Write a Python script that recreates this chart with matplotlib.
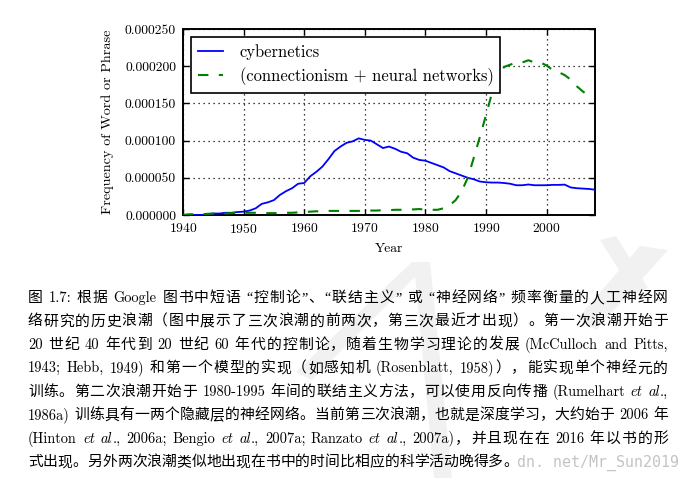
import matplotlib
matplotlib.use("Agg")
import matplotlib.pyplot as plt
from matplotlib.ticker import FormatStrFormatter, MultipleLocator
from matplotlib import font_manager
from matplotlib.ft2font import FT2Font
from matplotlib.patches import Polygon

years_cyb = list(range(1940, 2009))
cybernetics = [
    0.0, 0.0, 0.0, 0.0, 0.000001, 0.000002, 0.000002, 0.000003, 0.000003, 0.000004,
    0.0000045, 0.000006, 0.000009, 0.000015, 0.000017, 0.000020, 0.000027, 0.000032,
    0.000036, 0.000042, 0.000043, 0.000052, 0.000058, 0.000065, 0.000075, 0.000086,
    0.000092, 0.000097, 0.000099, 0.000103, 0.000101, 0.000100, 0.000095, 0.000090,
    0.000092, 0.000089, 0.000085, 0.000083, 0.000077, 0.000074, 0.000073, 0.000070,
    0.000067, 0.000064, 0.000059, 0.000056, 0.000053, 0.000050, 0.000048, 0.000045,
    0.000044, 0.0000436, 0.0000436, 0.000043, 0.000042, 0.000040, 0.000040, 0.000041,
    0.000040, 0.000040, 0.000040, 0.0000405, 0.0000405, 0.0000408, 0.000037, 0.000036,
    0.0000355, 0.000035, 0.000034,
]
years_conn = list(range(1940, 2008))
connectionism = [
    0.0, 0.000001, 0.000001, 0.000001, 0.0000015, 0.000002, 0.000002, 0.000002, 0.0000025, 0.000003,
    0.000003, 0.000003, 0.000003, 0.0000025, 0.0000025, 0.0000025, 0.0000025, 0.000003,
    0.000003, 0.0000035, 0.000004, 0.0000045, 0.000005, 0.000005, 0.0000055, 0.0000055,
    0.0000055, 0.0000055, 0.0000055, 0.0000055, 0.0000055, 0.000006, 0.000006, 0.0000065,
    0.0000065, 0.000007, 0.000007, 0.0000075, 0.0000075, 0.000008, 0.000007, 0.000007,
    0.000007, 0.000009, 0.000013, 0.000020, 0.000032, 0.000050, 0.000077, 0.000105,
    0.000134, 0.000164, 0.000186, 0.000199, 0.000202, 0.000205, 0.000205, 0.000208,
    0.000205, 0.000205, 0.000201, 0.000195, 0.000192, 0.000188, 0.000182, 0.000173,
    0.000166, 0.000160,
]
series_labels = ["cybernetics", "(connectionism + neural networks)"]
x_ticks = [1940, 1950, 1960, 1970, 1980, 1990, 2000]
x_label = "Year"
y_label = "Frequency of Word or Phrase"

caption_lines = [
    [("图 1.7: 根据 Google 图书中短语 “控制论”、“联结主义” 或 “神经网络” 频率衡量的人工神经网", "rm")],
    [("络研究的历史浪潮（图中展示了三次浪潮的前两次，第三次最近才出现）。第一次浪潮开始于", "rm")],
    [("20 世纪 40 年代到 20 世纪 60 年代的控制论，随着生物学习理论的发展 (McCulloch and Pitts,", "rm")],
    [("1943; Hebb, 1949) 和第一个模型的实现（如感知机 (Rosenblatt, 1958)），能实现单个神经元的", "rm")],
    [("训练。第二次浪潮开始于 1980-1995 年间的联结主义方法，可以使用反向传播 (Rumelhart ", "rm"),
     ("et al.", "it"), (",", "rm")],
    [("1986a) 训练具有一两个隐藏层的神经网络。当前第三次浪潮，也就是深度学习，大约始于 2006 年", "rm")],
    [("(Hinton ", "rm"), ("et al.", "it"), (", 2006a; Bengio ", "rm"), ("et al.", "it"),
     (", 2007a; Ranzato ", "rm"), ("et al.", "it"), (", 2007a)，并且现在在 2016 年以书的形", "rm")],
    [("式出现。另外两次浪潮类似地出现在书中的时间比相应的科学活动晚得多。", "rm")],
]
watermark = "dn. net/Mr_Sun2019"

plt.rcParams["font.family"] = ["cmr10", "Noto Sans CJK SC"]
plt.rcParams["axes.formatter.use_mathtext"] = True

W, H = 692, 478
fig = plt.figure(figsize=(W / 100, H / 100), dpi=100)

# faint watermark strokes (background)
wm_color = "#f1f1f1"
for pts in [
    [(412, 262), (430, 262), (312, 380), (296, 372)],
    [(414, 264), (430, 262), (452, 478), (434, 478)],
    [(640, 246), (668, 250), (596, 330), (578, 318)],
    [(600, 240), (616, 236), (648, 288), (634, 294)],
]:
    fig.patches.append(Polygon([(x / W, 1 - y / H) for x, y in pts], closed=True,
                               transform=fig.transFigure, facecolor=wm_color,
                               edgecolor="none", zorder=-5))

ax = fig.add_axes([183 / W, 1 - 215 / H, (595 - 183) / W, (215 - 29) / H])

ax.plot(years_cyb, cybernetics, color="#0000ff", lw=1.3, label=series_labels[0], zorder=3)
ax.plot(years_conn, connectionism, color="#008000", lw=1.5, dashes=(5, 5),
        label=series_labels[1], zorder=3)

ax.set_xlim(1940, 2008)
ax.set_ylim(0, 0.00025)
ax.set_xticks(x_ticks)
ax.yaxis.set_major_locator(MultipleLocator(0.00005))
ax.yaxis.set_major_formatter(FormatStrFormatter("%.6f"))
ax.grid(True, color="black", linestyle=(0, (1, 3)), lw=0.9)
ax.tick_params(direction="in", top=True, right=True, length=4, width=1, labelsize=9.8,
               pad=5)
for s in ax.spines.values():
    s.set_linewidth(1.4)
ax.set_xlabel(x_label, fontsize=9.8, labelpad=5)
ax.set_ylabel(y_label, fontsize=10.2, labelpad=8)

leg = ax.legend(loc="upper left", fontsize=11.9, fancybox=False, framealpha=1,
                edgecolor="black", borderaxespad=0.5, handlelength=1.5,
                handletextpad=1.0, borderpad=0.42, labelspacing=0.42)
leg.get_frame().set_linewidth(1.2)

# ---------------- caption with justified lines ----------------
DPI = 100
FS_CJK = 10.7
FS_LAT = 10.4
X_LEFT, X_RIGHT = 28, 668
baselines = [302 + 23.45 * i for i in range(8)]

fonts = {}


def get_font(family):
    if family not in fonts:
        path = font_manager.findfont(font_manager.FontProperties(family=family))
        fonts[family] = FT2Font(path)
    return fonts[family]


def advance(family, size, s):
    f = get_font(family)
    f.set_size(size, DPI)
    tot = 0.0
    for c in s:
        g = f.load_char(ord(c))
        tot += g.linearHoriAdvance / 65536.0
    return tot


def classify(c, style):
    if c in "“”":
        return "quote"
    if ord(c) >= 0x2E80:
        return "cjk"
    if style == "it" and c.isalpha():
        return "it"
    return "rm"


FAM = {"cjk": "Noto Sans CJK SC", "quote": "Liberation Serif", "rm": "cmr10", "it": "cmmi10"}
SIZE = {"cjk": FS_CJK, "quote": FS_LAT, "rm": FS_LAT, "it": FS_LAT}

space_w = advance("cmr10", FS_LAT, " ")


def tokenize(segments):
    toks = []
    state = {"buf": "", "kind": None, "space": False}

    def flush():
        if state["buf"]:
            toks.append([state["buf"], state["kind"], state["space"]])
            state["space"] = False
        state["buf"] = ""
        state["kind"] = None

    for s, style in segments:
        for c in s:
            if c == " ":
                flush()
                state["space"] = True
                continue
            k = classify(c, style)
            if k in ("cjk", "quote"):
                flush()
                toks.append([c, k, state["space"]])
                state["space"] = False
            else:
                if state["kind"] != k:
                    flush()
                state["buf"] += c
                state["kind"] = k
    flush()
    return toks


for i, (segments, yb) in enumerate(zip(caption_lines, baselines)):
    toks = tokenize(segments)
    advs = [advance(FAM[k], SIZE[k], t) for t, k, _ in toks]
    natural = sum(advs)
    stretch_gaps = []
    for j in range(1, len(toks)):
        prev_k, k, sp = toks[j - 1][1], toks[j][1], toks[j][2]
        if sp:
            natural += space_w
        if sp or prev_k in ("cjk", "quote") or k in ("cjk", "quote"):
            stretch_gaps.append(j)
    justify = i < len(caption_lines) - 1
    extra = (X_RIGHT - X_LEFT - natural) / max(len(stretch_gaps), 1) if justify else 0.0
    gapset = set(stretch_gaps)
    x = X_LEFT
    for j, (t, k, sp) in enumerate(toks):
        if j > 0:
            if sp:
                x += space_w
            if j in gapset:
                x += extra
        fig.text(x / W, 1 - yb / H, t, fontsize=SIZE[k], family=[FAM[k], "DejaVu Sans"],
                 va="baseline", ha="left", color="black")
        x += advs[j]

fig.text(517 / W, 1 - 467 / H, watermark, fontsize=10.8, family="DejaVu Sans Mono",
         color="#c4c4c4", ha="left", va="baseline", zorder=0)

fig.savefig("out.png", dpi=100)
